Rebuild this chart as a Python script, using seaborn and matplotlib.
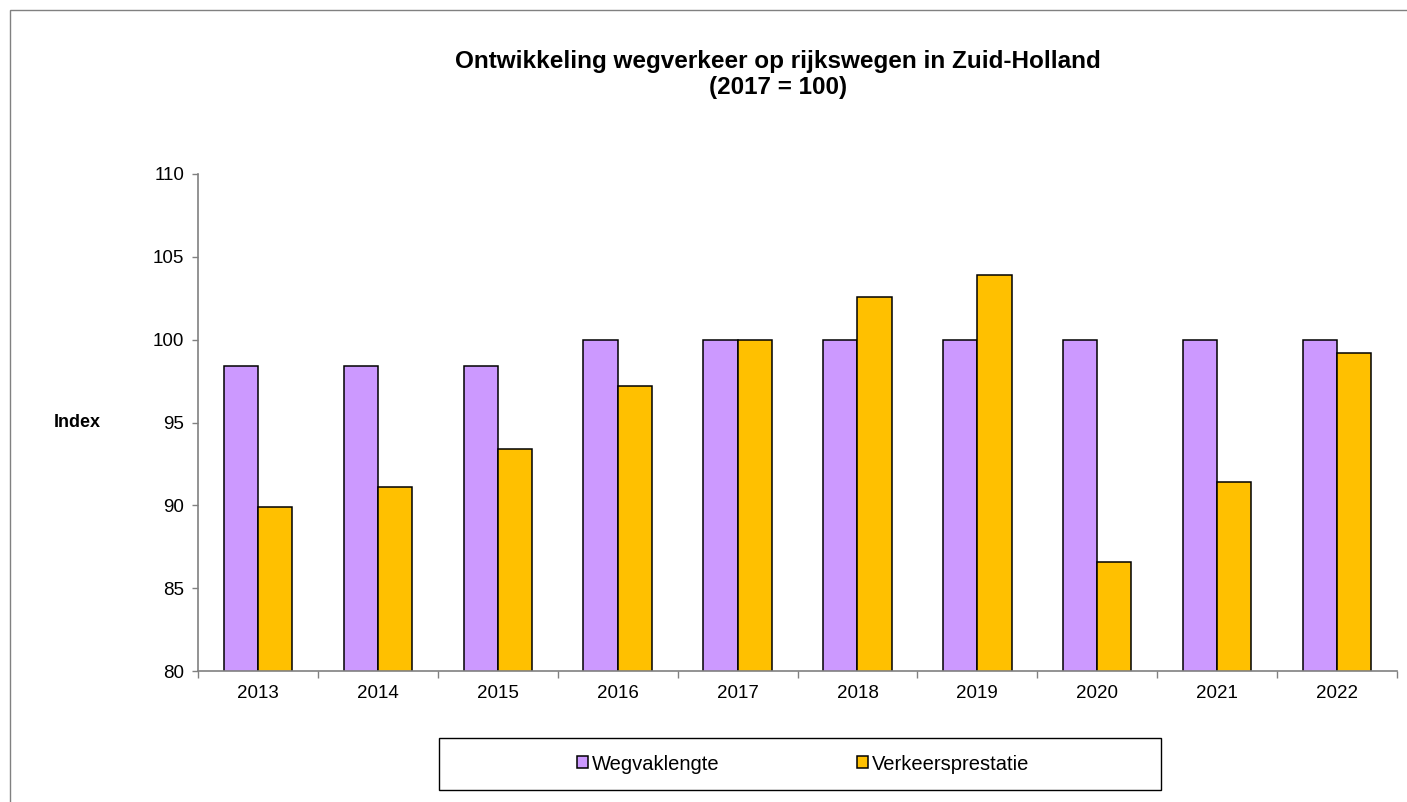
import pandas as pd
import seaborn as sns
from matplotlib import pyplot as plt
from matplotlib.patches import Rectangle

# Data
jaren = ['2013', '2014', '2015', '2016', '2017', '2018', '2019', '2020', '2021', '2022']
wegvaklengte = [98.4, 98.4, 98.4, 100.0, 100.0, 100.0, 100.0, 100.0, 100.0, 100.0]
verkeersprestatie = [89.9, 91.1, 93.4, 97.2, 100.0, 102.6, 103.9, 86.6, 91.4, 99.2]
reeksen = ['Wegvaklengte', 'Verkeersprestatie']
kleuren = ['#CC99FF', '#FFC000']

df = pd.DataFrame({
    'jaar': jaren * 2,
    'index': wegvaklengte + verkeersprestatie,
    'reeks': [reeksen[0]] * len(jaren) + [reeksen[1]] * len(jaren),
})

sns.set_style('white')
plt.rcParams['font.family'] = ['Liberation Sans', 'DejaVu Sans']
plt.rcParams['text.color'] = 'black'
plt.rcParams['xtick.color'] = 'black'
plt.rcParams['ytick.color'] = 'black'
plt.rcParams['axes.labelcolor'] = 'black'

fig = plt.figure(figsize=(14.07, 8.02), dpi=100)
ax = fig.add_axes([198 / 1407, 1 - 671 / 802, 1199 / 1407, 497 / 802])

sns.barplot(data=df, x='jaar', y='index', hue='reeks', palette=kleuren, saturation=1,
            width=0.57, edgecolor='black', linewidth=1.1, ax=ax)

ax.set_ylim(80, 110)
ax.set_yticks(range(80, 111, 5))
ax.set_xlim(-0.5, len(jaren) - 0.5)
ax.set_xlabel('')
ax.set_ylabel('Index', rotation=0, fontsize=13, fontweight='bold', ha='center', va='center')
ax.yaxis.set_label_coords(-0.101, 0.5)

# spines en ticks zoals in Excel
sns.despine(ax=ax)
for s in ['left', 'bottom']:
    ax.spines[s].set_color('#808080')
    ax.spines[s].set_linewidth(1.2)
ax.tick_params(axis='y', direction='out', length=4, width=1, color='#808080',
               labelsize=13.5, labelcolor='black', left=True, pad=6)
ax.set_xticks([i + 0.5 for i in range(-1, len(jaren))], minor=True)
ax.tick_params(axis='x', which='major', length=0, labelsize=13.5, labelcolor='black', pad=10)
ax.tick_params(axis='x', which='minor', direction='out', length=5, width=1,
               color='#808080', bottom=True)

# titel
fig.text(778 / 1407, 1 - 74.5 / 802,
         'Ontwikkeling wegverkeer op rijkswegen in Zuid-Holland\n(2017 = 100)',
         ha='center', va='center', fontsize=17.5, fontweight='bold', linespacing=1.2)

# legenda met eigen kader
ax.get_legend().remove()
handles, labels = ax.get_legend_handles_labels()
fig.patches.append(Rectangle((439 / 1407, 1 - 790 / 802), 722 / 1407, 52 / 802,
                             transform=fig.transFigure, fill=False,
                             edgecolor='black', linewidth=1))
fig.legend(handles, labels, loc='center', bbox_to_anchor=(803 / 1407, 1 - 764 / 802),
           ncol=2, frameon=False, fontsize=14.5, handlelength=0.55, handleheight=0.55,
           handletextpad=0.2, columnspacing=6.8)

# kader rond de hele figuur
fig.patches.append(Rectangle((10 / 1407, -0.05), 1.2, 1 - 10 / 802 + 0.05,
                             transform=fig.transFigure, fill=False,
                             edgecolor='#808080', linewidth=1))

fig.savefig('out.png', dpi=100)
